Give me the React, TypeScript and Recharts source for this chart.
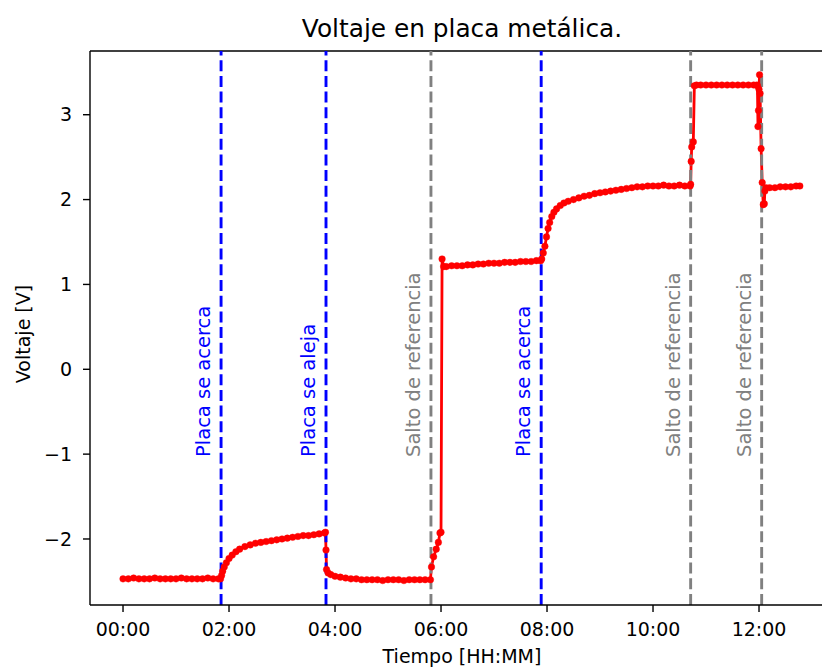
import React from "react";
import { LineChart, Line, XAxis, YAxis, ReferenceLine } from "recharts";

// tiempo en horas, voltaje en V
const tiempo = [
  0.0, 0.1, 0.2, 0.3, 0.4, 0.5, 0.6, 0.7, 0.8, 0.9, 1.0, 1.1, 1.2, 1.3, 1.4, 1.5, 1.6, 1.7, 1.8, 1.84,
  1.86, 1.88, 1.91, 1.95, 2.0, 2.06, 2.13, 2.2, 2.3, 2.4, 2.5, 2.6, 2.7, 2.8, 2.9, 3.0, 3.1, 3.2, 3.3, 3.4, 3.5, 3.6, 3.7, 3.8,
  3.82, 3.83, 3.84, 3.87, 3.92, 4.0, 4.1, 4.2, 4.3, 4.4, 4.5, 4.6, 4.7, 4.8, 4.9, 5.0, 5.1, 5.2, 5.3, 5.4, 5.5, 5.6, 5.7, 5.8,
  5.82, 5.86, 5.91, 5.95, 5.98, 6.0, 6.02, 6.05,
  6.1, 6.2, 6.3, 6.4, 6.5, 6.6, 6.7, 6.8, 6.9, 7.0, 7.1, 7.2, 7.3, 7.4, 7.5, 7.6, 7.7, 7.8, 7.88,
  7.9, 7.93, 7.96, 7.99, 8.02, 8.05, 8.09, 8.13, 8.18, 8.25, 8.32, 8.4, 8.5, 8.6, 8.7, 8.8, 8.9, 9.0, 9.1, 9.2, 9.3, 9.4, 9.5,
  9.6, 9.7, 9.8, 9.9, 10.0, 10.1, 10.2, 10.3, 10.4, 10.5, 10.6, 10.7,
  10.71, 10.72, 10.73, 10.76, 10.78, 10.82, 10.9, 11.0, 11.1, 11.2, 11.3, 11.4, 11.5, 11.6, 11.7, 11.8, 11.9, 11.96,
  11.97, 11.98, 11.99, 12.0, 12.01, 12.02, 12.04, 12.06, 12.08, 12.1, 12.11, 12.13,
  12.2, 12.3, 12.4, 12.5, 12.6, 12.7, 12.77,
];

const voltaje = [
  -2.47, -2.47, -2.46, -2.47, -2.47, -2.47, -2.46, -2.47, -2.47, -2.47, -2.47, -2.46, -2.47, -2.47, -2.47, -2.47, -2.46, -2.47, -2.47, -2.47,
  -2.43, -2.38, -2.33, -2.28, -2.23, -2.19, -2.15, -2.12, -2.09, -2.07, -2.05, -2.04, -2.03, -2.02, -2.01, -2.0, -1.99, -1.98, -1.97, -1.96, -1.96, -1.95, -1.94, -1.93,
  -1.92, -2.13, -2.36, -2.4, -2.42, -2.44, -2.45, -2.46, -2.47, -2.47, -2.48, -2.48, -2.48, -2.48, -2.49, -2.48, -2.48, -2.48, -2.49, -2.48, -2.48, -2.48, -2.48, -2.48,
  -2.33, -2.21, -2.12, -2.04, -1.93, -1.92, 1.3, 1.21,
  1.21, 1.22, 1.22, 1.22, 1.23, 1.23, 1.24, 1.24, 1.25, 1.25, 1.25, 1.26, 1.26, 1.26, 1.27, 1.27, 1.27, 1.28, 1.28,
  1.3, 1.37, 1.45, 1.56, 1.66, 1.73, 1.8, 1.85, 1.89, 1.93, 1.96, 1.98, 2.0, 2.02, 2.04, 2.05, 2.07, 2.08, 2.09, 2.1, 2.11, 2.12, 2.13,
  2.14, 2.15, 2.15, 2.16, 2.16, 2.16, 2.17, 2.16, 2.16, 2.17, 2.16, 2.16,
  2.18, 2.45, 2.62, 2.68, 3.34, 3.35, 3.35, 3.35, 3.35, 3.35, 3.35, 3.35, 3.35, 3.35, 3.35, 3.35, 3.35, 3.35,
  3.34, 2.86, 3.05, 3.3, 3.47, 3.25, 2.6, 2.2, 1.94, 1.95, 2.1, 2.14,
  2.14, 2.14, 2.15, 2.15, 2.15, 2.16, 2.16,
];

const eventos = [1.85, 3.83, 5.81, 7.89, 10.71, 12.05];
const eventoTextos = [
  "Placa se acerca",
  "Placa se aleja",
  "Salto de referencia",
  "Placa se acerca",
  "Salto de referencia",
  "Salto de referencia",
];
const eventoColores = ["#0000ff", "#0000ff", "#808080", "#0000ff", "#808080", "#808080"];

const xTicks = [0, 2, 4, 6, 8, 10, 12];
const yTicks = [-2, -1, 0, 1, 2, 3];

const X_DOMAIN: [number, number] = [-0.623, 13.528];
const Y_DOMAIN: [number, number] = [-2.778, 3.751];

const data = tiempo.map((t, i) => ({ t, v: voltaje[i] }));

const FONT = "DejaVu Sans";

const fmtHora = (h: number) => `${String(Math.floor(h)).padStart(2, "0")}:00`;
const fmtVolt = (v: number) => (v < 0 ? `\u2212${Math.abs(v)}` : `${v}`);

function EventLabel(props: any) {
  const { viewBox, texto, color } = props;
  if (!viewBox) return null;
  const x = viewBox.x - 11;
  return (
    <text
      transform={`translate(${x},457) rotate(-90)`}
      fill={color}
      fontSize={19.5}
      fontFamily={FONT}
      textAnchor="start"
    >
      {texto}
    </text>
  );
}

export default function App() {
  return (
    <div
      style={{
        position: "fixed",
        left: 0,
        top: 0,
        width: 822,
        height: 668,
        overflow: "hidden",
        background: "#fff",
      }}
    >
      <LineChart width={860} height={668} data={data} margin={{ top: 51, right: 20, bottom: 0, left: 0 }}>
        <XAxis
          dataKey="t"
          type="number"
          domain={X_DOMAIN}
          allowDataOverflow
          ticks={xTicks}
          tickFormatter={fmtHora}
          height={63}
          tickSize={7}
          tickMargin={11}
          axisLine={{ stroke: "#000", strokeWidth: 1.4 }}
          tickLine={{ stroke: "#000", strokeWidth: 1.4 }}
          tick={{ fill: "#000", fontSize: 19, fontFamily: FONT }}
        />
        <YAxis
          type="number"
          domain={Y_DOMAIN}
          allowDataOverflow
          ticks={yTicks}
          tickFormatter={fmtVolt}
          width={90}
          tickSize={7}
          tickMargin={11}
          axisLine={{ stroke: "#000", strokeWidth: 1.4 }}
          tickLine={{ stroke: "#000", strokeWidth: 1.4 }}
          tick={{ fill: "#000", fontSize: 19, fontFamily: FONT }}
        />
        <ReferenceLine y={Y_DOMAIN[1]} stroke="#000" strokeWidth={1.4} ifOverflow="visible" />
        <Line
          dataKey="v"
          type="linear"
          stroke="#ff0000"
          strokeWidth={2.8}
          dot={{ r: 3.3, fill: "#ff0000", stroke: "#ff0000", strokeWidth: 0.4 }}
          activeDot={false}
          isAnimationActive={false}
        />
        {eventos.map((x, i) => (
          <ReferenceLine
            key={i}
            x={x}
            stroke={eventoColores[i]}
            strokeWidth={2.9}
            strokeDasharray="11 4.7"
            label={(p: any) => <EventLabel {...p} texto={eventoTextos[i]} color={eventoColores[i]} />}
          />
        ))}
      </LineChart>
      <svg
        width={822}
        height={668}
        style={{ position: "absolute", left: 0, top: 0, pointerEvents: "none" }}
      >
        <text x={462} y={37} textAnchor="middle" fontSize={24.8} fontFamily={FONT} fill="#000">
          Voltaje en placa metálica.
        </text>
        <text x={462} y={663} textAnchor="middle" fontSize={19} fontFamily={FONT} fill="#000">
          Tiempo [HH:MM]
        </text>
        <text
          transform="translate(30,334) rotate(-90)"
          textAnchor="middle"
          fontSize={19}
          fontFamily={FONT}
          fill="#000"
        >
          Voltaje [V]
        </text>
      </svg>
    </div>
  );
}
